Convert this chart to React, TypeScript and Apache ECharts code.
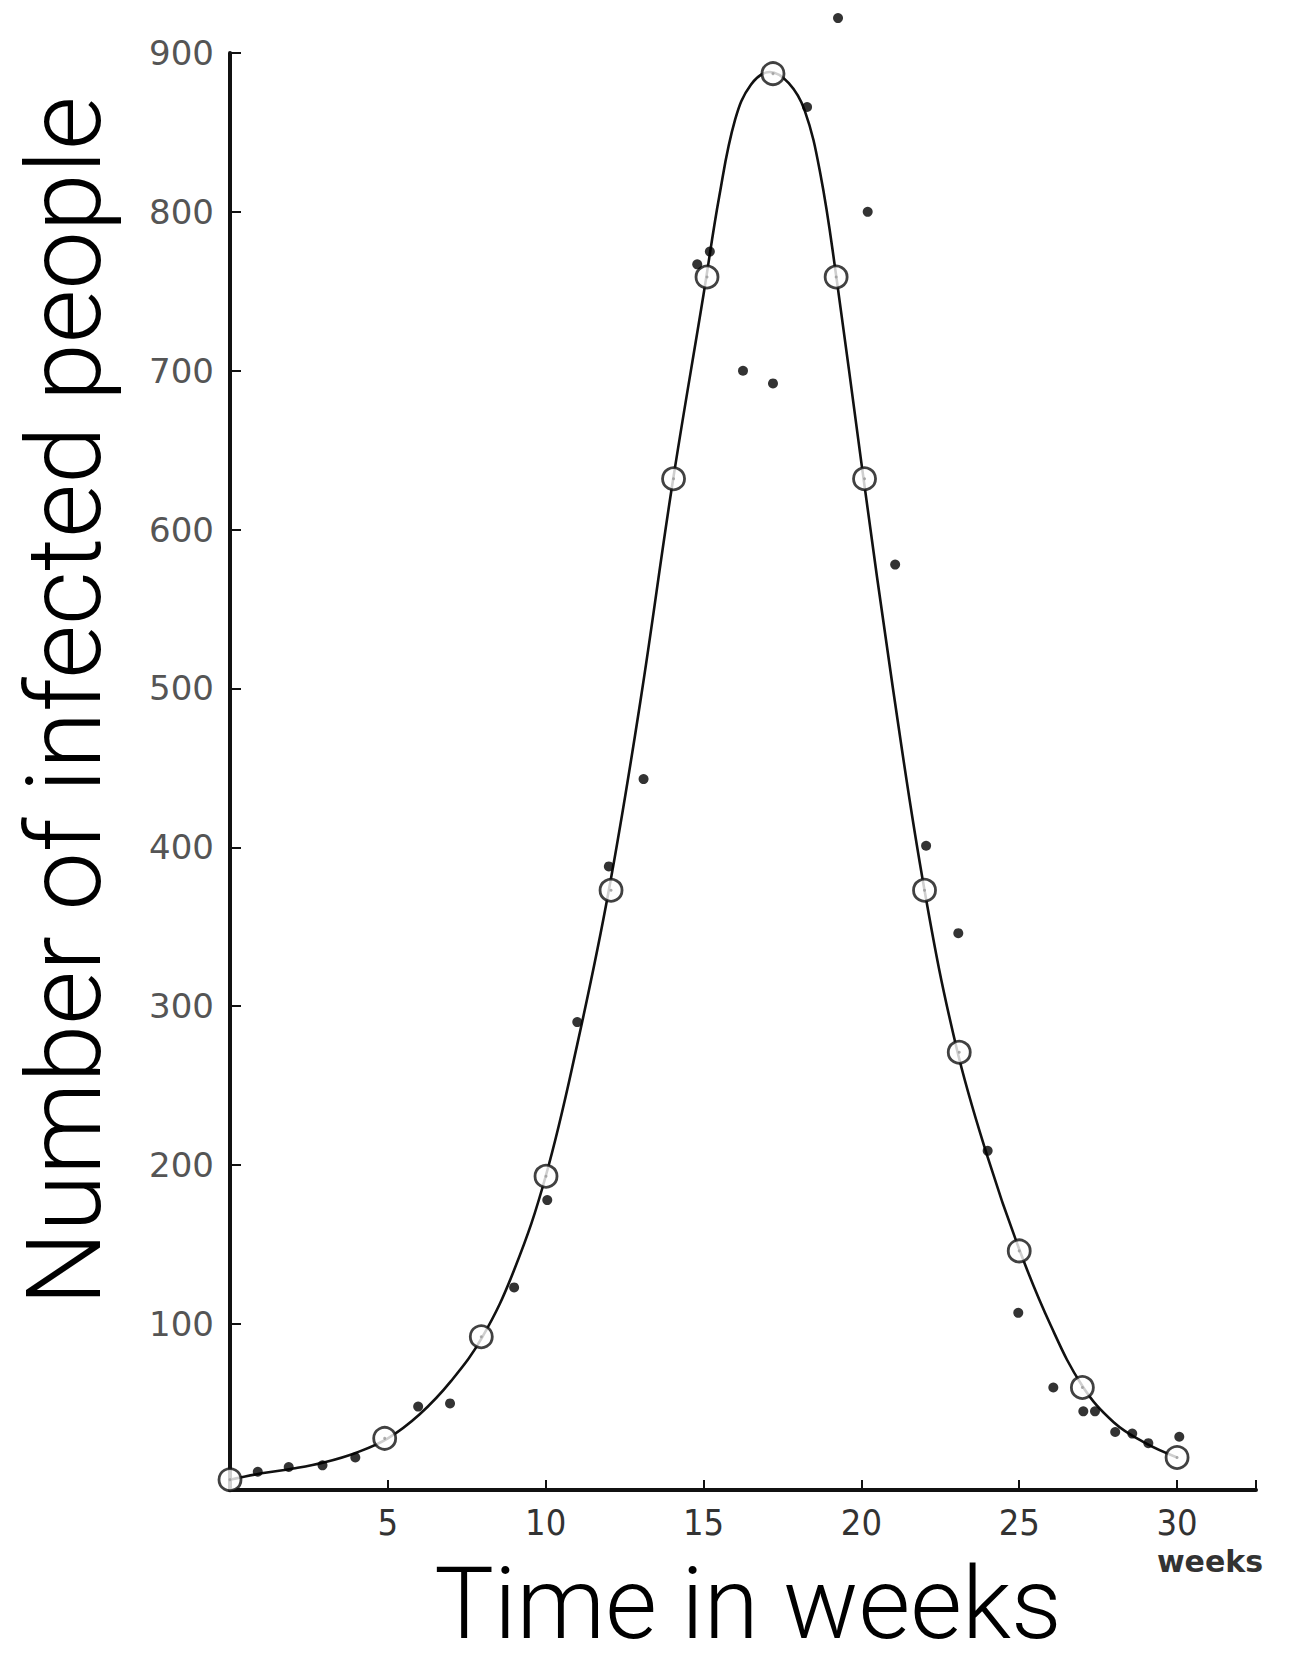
import React, { useEffect, useRef } from "react";
import * as echarts from "echarts";

// Fitted curve (week, number of infected people)
const curveWeeks = [0, 1, 2, 3, 4, 5, 6, 7, 8, 9, 10, 11, 12, 13, 14, 15, 15.5, 16, 16.5, 17.1, 17.7, 18.2, 18.7, 19.2, 20, 21, 22, 23, 24, 25, 26, 27, 28, 29, 30];
const curveValues = [2, 6, 9, 13, 19, 28, 43, 64, 92, 134, 193, 276, 373, 492, 627, 748, 810, 858, 880, 888, 881, 864, 824, 760, 642, 500, 373, 275, 205, 147, 99, 61, 38, 25, 16];

// Open circles (model points)
const modelWeeks = [0, 4.9, 7.96, 10.01, 12.07, 14.05, 15.11, 17.2, 19.2, 20.1, 22, 23.1, 25, 27, 30];
const modelValues = [2, 28, 92, 193, 373, 632, 759, 887, 759, 632, 373, 271, 146, 60, 16];

// Filled dots (observed cases)
const observedWeeks = [0.88, 1.86, 2.93, 3.97, 5.96, 6.97, 9.0, 10.05, 11.0, 12.0, 13.1, 14.8, 15.2, 16.25, 17.2, 18.28, 19.26, 20.2, 21.07, 22.05, 23.07, 24.0, 24.97, 26.08, 27.03, 27.4, 28.04, 28.58, 29.09, 30.07];
const observedValues = [7, 10, 11, 16, 48, 50, 123, 178, 290, 388, 443, 767, 775, 700, 692, 866, 922, 800, 578, 401, 346, 209, 107, 60, 45, 45, 32, 31, 25, 29];

// Axis ticks
const yTickValues = [100, 200, 300, 400, 500, 600, 700, 800, 900];
const xTickValues = [5, 10, 15, 20, 25, 30];
const xTickMarks = [5, 10, 15, 20, 25, 30, 32.5];

const yTitle = "Number of infected people";
const xTitle = "Time in weeks";
const xUnit = "weeks";

export default function App() {
  const ref = useRef<HTMLDivElement>(null);

  useEffect(() => {
    if (!ref.current) return;
    const chart = echarts.init(ref.current, null, { renderer: "svg" });

    const curveData = curveWeeks.map((w, i) => [w, curveValues[i]]);
    const modelData = modelWeeks.map((w, i) => [w, modelValues[i]]);
    const observedData = observedWeeks.map((w, i) => [w, observedValues[i]]);

    chart.setOption({
      animation: false,
      backgroundColor: "#ffffff",
      grid: { left: 230, right: 42, top: 53, bottom: 172, containLabel: false },
      xAxis: {
        type: "value",
        min: 0,
        max: 32.5,
        splitLine: { show: false },
        axisLine: { show: true, onZero: false, lineStyle: { color: "#111", width: 4 } },
        axisTick: {
          show: true,
          inside: true,
          length: 10,
          customValues: xTickMarks,
          lineStyle: { color: "#111", width: 2 },
        },
        axisLabel: {
          show: true,
          customValues: xTickValues,
          margin: 14,
          color: "#333",
          fontSize: 36,
          fontFamily: "'DejaVu Sans Condensed', 'Liberation Sans Narrow', 'DejaVu Sans', sans-serif",
        },
      },
      yAxis: {
        type: "value",
        min: -4.5,
        max: 900,
        splitLine: { show: false },
        axisLine: { show: true, onZero: false, lineStyle: { color: "#111", width: 4 } },
        axisTick: {
          show: true,
          inside: true,
          length: 11,
          customValues: yTickValues,
          lineStyle: { color: "#111", width: 2 },
        },
        axisLabel: {
          show: true,
          customValues: yTickValues,
          margin: 16,
          color: "#555",
          fontSize: 34,
          fontFamily: "'DejaVu Sans', sans-serif",
        },
      },
      series: [
        {
          name: "Curve",
          type: "line",
          data: curveData,
          smooth: 0.4,
          showSymbol: false,
          symbol: "none",
          lineStyle: { color: "#111", width: 2.6 },
          z: 2,
        },
        {
          name: "Model",
          type: "scatter",
          data: modelData,
          symbol: "circle",
          symbolSize: 22,
          clip: false,
          itemStyle: { color: "#ffffff", borderColor: "#111", borderWidth: 2.8 },
          z: 3,
        },
        {
          name: "Model centre",
          type: "scatter",
          data: modelData,
          symbol: "circle",
          symbolSize: 3,
          clip: false,
          itemStyle: { color: "#999" },
          z: 4,
        },
        {
          name: "Observed",
          type: "scatter",
          data: observedData,
          symbol: "circle",
          symbolSize: 10,
          clip: false,
          itemStyle: { color: "#000" },
          z: 5,
        },
      ],
      graphic: [
        {
          type: "text",
          x: 64,
          y: 701,
          rotation: Math.PI / 2,
          style: {
            text: yTitle,
            fontSize: 104,
            fontFamily: "Roboto, 'Open Sans', sans-serif",
            fontWeight: 300,
            fill: "#000",
            align: "center",
            verticalAlign: "middle",
          },
        },
        {
          type: "text",
          x: 748,
          y: 1603,
          style: {
            text: xTitle,
            fontSize: 100,
            fontFamily: "Roboto, 'Open Sans', sans-serif",
            fontWeight: 300,
            fill: "#000",
            align: "center",
            verticalAlign: "middle",
          },
        },
        {
          type: "text",
          x: 1210,
          y: 1561,
          style: {
            text: xUnit,
            fontSize: 30,
            fontFamily: "'DejaVu Sans', sans-serif",
            fontWeight: "bold",
            fill: "#333",
            align: "center",
            verticalAlign: "middle",
          },
        },
      ],
    });

    return () => chart.dispose();
  }, []);

  return (
    <div
      ref={ref}
      style={{ position: "absolute", left: 0, top: 0, width: 1298, height: 1662, background: "#fff" }}
    />
  );
}
